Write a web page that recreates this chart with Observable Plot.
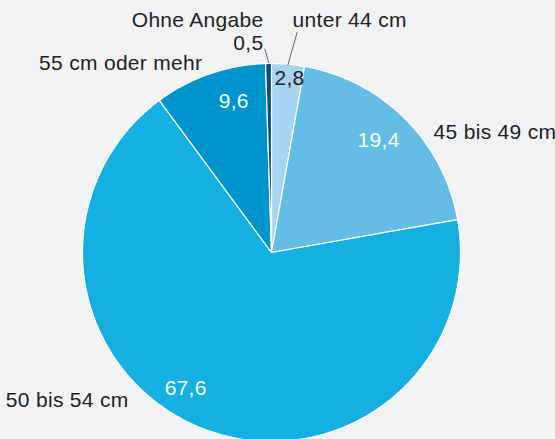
<!DOCTYPE html>
<html><head><meta charset="utf-8">
<script src="https://cdn.jsdelivr.net/npm/d3@7"></script>
<script src="https://cdn.jsdelivr.net/npm/@observablehq/plot@0.6"></script>
<style>html,body{margin:0;padding:0;background:#f2f3f5;} svg{display:block;} svg text{letter-spacing:0.3px;}</style>
</head><body><div id="chart"></div>
<script>
// ---- data ----
const categories = ["unter 44 cm", "45 bis 49 cm", "50 bis 54 cm", "55 cm oder mehr", "Ohne Angabe"];
const values = [2.8, 19.4, 67.6, 9.6, 0.5];
const valueLabels = ["2,8", "19,4", "67,6", "9,6", "0,5"];
const colors = ["#a5d5f1", "#63bde7", "#14b0e1", "#0094cf", "#0b4f7e"];

// ---- layout (label placement, polar: angle in degrees from 12 o'clock clockwise, radius as fraction of R) ----
const valueLayout = [
  {a: 5.9, r: 0.926, anchor: "middle", fill: "#222"},
  {a: 43.7, r: 0.82, anchor: "middle", fill: "white"},
  {a: 212.3, r: 0.85, anchor: "middle", fill: "white"},
  {a: 346, r: 0.825, anchor: "middle", fill: "white"},
  {a: 357.8, r: 1.107, anchor: "end", fill: "#222"}
];
const catLayout = [
  {a: 5.2, r: 1.233, anchor: "start"},
  {a: 53.5, r: 1.067, anchor: "start"},
  {a: 224, r: 1.089, anchor: "end"},
  {a: 339.9, r: 1.065, anchor: "end"},
  {a: -1.97, r: 1.228, anchor: "end"}
];
const leaderLayout = [
  {a1: 6.65, r1: 1.174, a2: 4.98, r2: 0.993},
  {a1: -1.88, r1: 1.078, a2: -0.82, r2: 1.002}
];

const rad = d => d * Math.PI / 180;
const polar = (a, r) => [r * Math.sin(a), r * Math.cos(a)];

const arcs = d3.pie().sort(null).startAngle(0).endAngle(2 * Math.PI)(values);
const slicePts = [];
arcs.forEach((arc, i) => {
  slicePts.push({cat: categories[i], x: 0, y: 0});
  const n = Math.max(4, Math.ceil((arc.endAngle - arc.startAngle) / (Math.PI / 360)));
  for (let k = 0; k <= n; k++) {
    const a = arc.startAngle + (arc.endAngle - arc.startAngle) * k / n;
    const [x, y] = polar(a, 1);
    slicePts.push({cat: categories[i], x, y});
  }
});

const valueData = valueLabels.map((t, i) => {
  const L = valueLayout[i];
  const [x, y] = polar(rad(L.a), L.r);
  return {t, x, y, anchor: L.anchor, fill: L.fill};
});
const catData = categories.map((t, i) => {
  const L = catLayout[i];
  const [x, y] = polar(rad(L.a), L.r);
  return {t, x, y, anchor: L.anchor};
});
const leaderData = leaderLayout.map(L => {
  const [x1, y1] = polar(rad(L.a1), L.r1);
  const [x2, y2] = polar(rad(L.a2), L.r2);
  return {x1, y1, x2, y2};
});

const font = "'Liberation Sans', Arial, Helvetica, sans-serif";
const fs = 21;

const plot = Plot.plot({
  width: 555,
  height: 439,
  marginLeft: 82,
  marginRight: 95,
  marginTop: 63,
  marginBottom: 0,
  x: {domain: [-1, 1], axis: null},
  y: {domain: [1 - 376 / 189, 1], axis: null},
  color: {domain: categories, range: colors},
  style: {background: "#f2f3f5", fontFamily: font},
  marks: [
    Plot.line(slicePts, {x: "x", y: "y", z: "cat", fill: "cat", stroke: "white", strokeWidth: 1.2, curve: "linear-closed"}),
    Plot.link(leaderData, {x1: "x1", y1: "y1", x2: "x2", y2: "y2", stroke: "#444", strokeWidth: 0.8}),
    ...["start", "middle", "end"].map(anc =>
      Plot.text(valueData.filter(d => d.anchor === anc), {x: "x", y: "y", text: "t", fill: d => d.fill, textAnchor: anc, fontSize: fs, fontFamily: font})
    ),
    ...["start", "end"].map(anc =>
      Plot.text(catData.filter(d => d.anchor === anc), {x: "x", y: "y", text: "t", fill: "#222", textAnchor: anc, fontSize: fs, fontFamily: font})
    )
  ]
});
document.getElementById("chart").appendChild(plot);
</script>
</body></html>
